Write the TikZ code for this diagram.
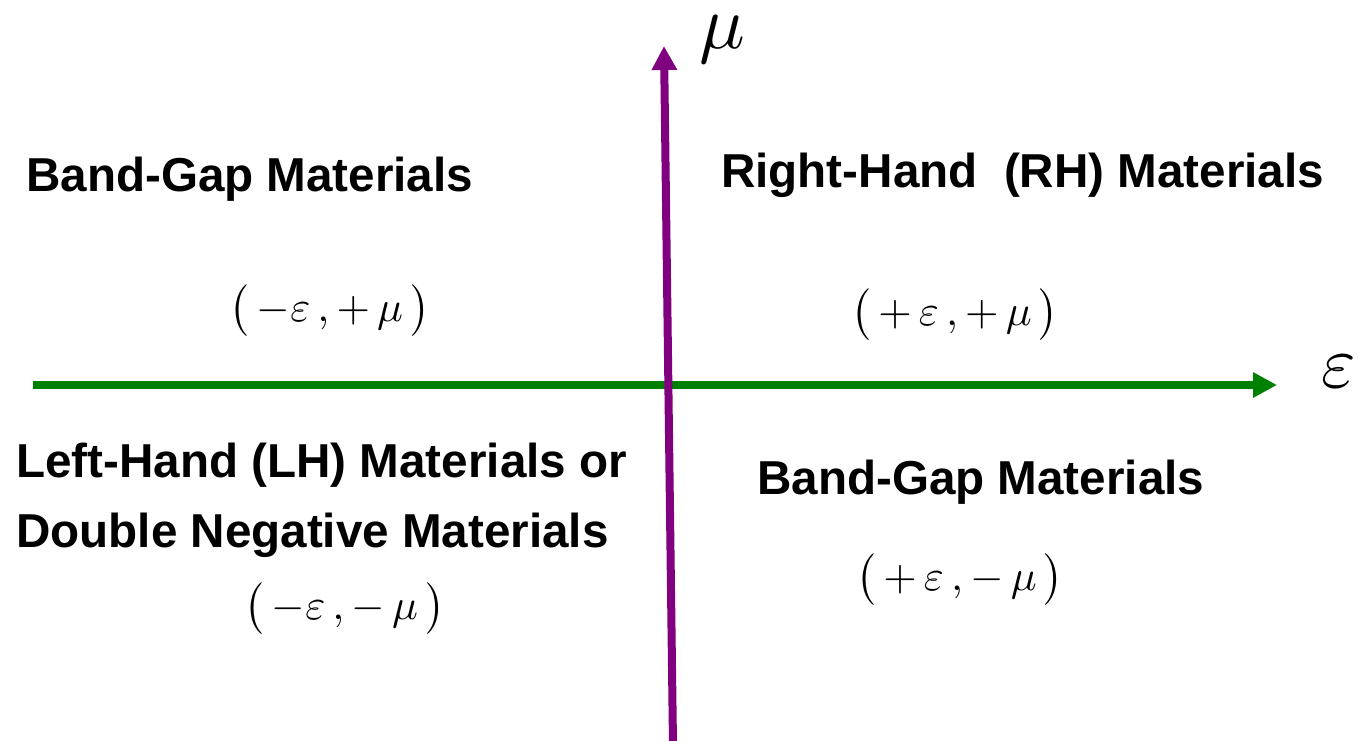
\documentclass[tikz,border=0pt]{standalone}
\usepackage{fontspec}
\newfontfamily\arialf{Liberation Sans}
\usetikzlibrary{arrows.meta}
\definecolor{axgreen}{RGB}{0,128,0}
\definecolor{axpurple}{RGB}{128,0,128}
\tikzset{
  lbl/.style={font=\arialf\bfseries\fontsize{47.6}{70}\selectfont, inner sep=0pt, anchor=base west},
  mth/.style={font=\fontsize{10}{12}\selectfont, inner sep=0pt, anchor=center, scale=4.3},
  axis/.style={line width=8pt, -{Triangle[length=24pt,width=24pt]}},
  axlbl/.style={font=\fontsize{10}{12}\selectfont, inner sep=0pt, anchor=center}
}
\begin{document}
\begin{tikzpicture}[x=1pt,y=-1pt]
\useasboundingbox (0,0) rectangle (1360,741);
\coordinate (eL) at (33,385);
\coordinate (eR) at (1277,385);
\coordinate (mB) at (673,745);
\coordinate (mT) at (664,46);
\draw[axis, axgreen] (eL) -- (eR);
\draw[axis, axpurple] (mB) -- (mT);
\node[axlbl, scale=7.6] (mu) at (722,40) {$\mu$};
\node[axlbl, scale=7.4] (eps) at (1339,372) {$\varepsilon$};
\node[lbl] (bg1) at (26,191) {Band-Gap Materials};
\node[lbl] (rh) at (721,187) {Right-Hand\ \ (RH) Materials};
\node[lbl] (lh) at (16,477) {Left-Hand (LH) Materials or};
\node[lbl] (dn) at (16,547) {Double Negative Materials};
\node[lbl] (bg2) at (757,494) {Band-Gap Materials};
\node[mth] (q2) at (330,311) {$\bigl(\,{-}\varepsilon\,,{+}\,\mu\,\bigr)$};
\node[mth] (q1) at (955,315) {$\bigl(\,{+}\,\varepsilon\,,{+}\,\mu\,\bigr)$};
\node[mth] (q3) at (345,609) {$\bigl(\,{-}\varepsilon\,,{-}\,\mu\,\bigr)$};
\node[mth] (q4) at (960,580) {$\bigl(\,{+}\,\varepsilon\,,{-}\,\mu\,\bigr)$};
\end{tikzpicture}
\end{document}
